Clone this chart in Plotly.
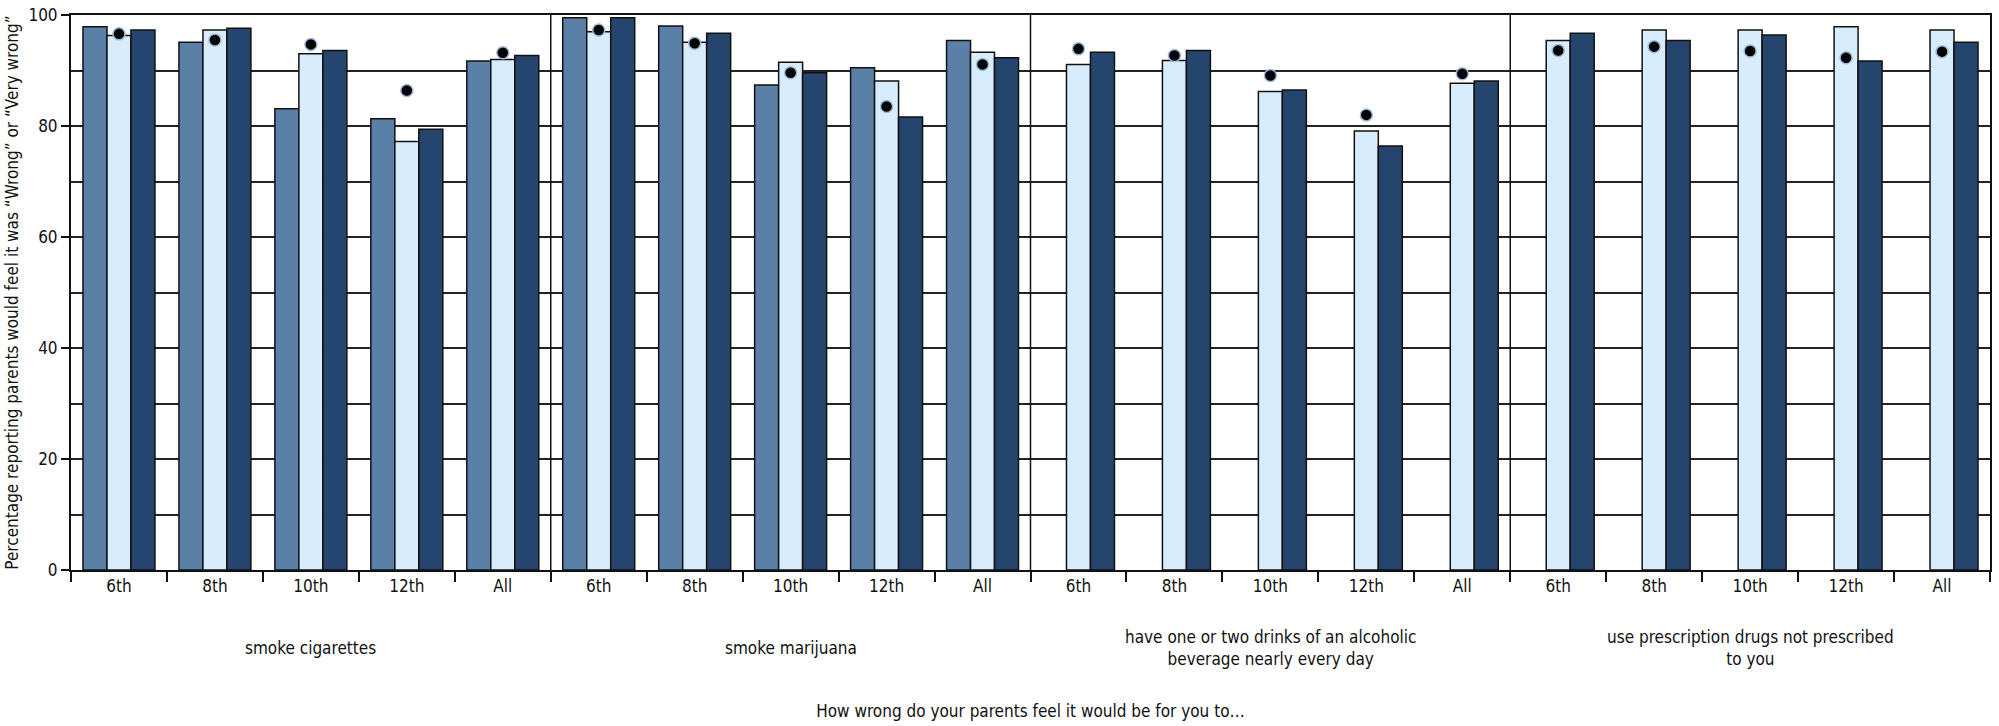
import plotly.graph_objects as go

# categories
grades = ["6th", "8th", "10th", "12th", "All"]
behaviours = [
    "smoke cigarettes",
    "smoke marijuana",
    "have one or two drinks of an alcoholic<br>beverage nearly every day",
    "use prescription drugs not prescribed<br>to you",
]

# three bar series, 20 values each (4 behaviours x 5 grades); None = not asked
series_a = [97.9, 95.1, 83.1, 81.3, 91.7,
            99.5, 98.0, 87.4, 90.5, 95.4,
            None, None, None, None, None,
            None, None, None, None, None]
series_b = [96.3, 97.3, 93.0, 77.2, 92.0,
            97.0, 95.1, 91.5, 88.1, 93.3,
            91.1, 91.8, 86.2, 79.1, 87.7,
            95.4, 97.3, 97.3, 97.9, 97.3]
series_c = [97.3, 97.6, 93.6, 79.4, 92.7,
            99.5, 96.7, 89.6, 81.6, 92.3,
            93.3, 93.6, 86.5, 76.4, 88.1,
            96.7, 95.4, 96.4, 91.7, 95.1]
# comparison dots
dots = [96.6, 95.5, 94.7, 86.4, 93.2,
        97.3, 94.9, 89.6, 83.5, 91.1,
        93.9, 92.7, 89.1, 82.0, 89.4,
        93.6, 94.3, 93.5, 92.3, 93.4]

FONT = "Liberation Sans Narrow, DejaVu Sans Condensed, sans-serif"
pos = list(range(len(grades) * len(behaviours)))
labels = grades * len(behaviours)

fig = go.Figure()
for vals, col in [(series_a, "#5b80a8"), (series_b, "#d9ecfb"), (series_c, "#26456e")]:
    fig.add_trace(go.Bar(x=pos, y=vals, marker=dict(color=col, line=dict(color="#111", width=1.5)),
                         showlegend=False))
fig.add_trace(go.Scatter(x=pos, y=dots, mode="markers", showlegend=False,
                         marker=dict(size=12, color="black", line=dict(color="#9dbade", width=1.5))))

# group separators
for k in range(1, len(behaviours)):
    fig.add_shape(type="line", xref="x", yref="y", x0=k * 5 - 0.5, x1=k * 5 - 0.5, y0=0, y1=100,
                  line=dict(color="#111", width=1.5))
# group labels
for k, b in enumerate(behaviours):
    fig.add_annotation(x=k * 5 + 2, y=-0.14, xref="x", yref="paper", text=b, showarrow=False,
                       font=dict(family=FONT, size=17, color="#111"), yanchor="middle")

fig.update_layout(
    width=1999, height=726, plot_bgcolor="white", paper_bgcolor="white",
    margin=dict(l=71, r=9, t=15, b=156),
    barmode="group", bargap=0.25, bargroupgap=0,
    font=dict(family=FONT, size=17, color="#111"),
)
fig.update_xaxes(range=[-0.5, 19.5], tickvals=pos, ticktext=labels, ticks="", automargin=False,
                 showline=True, linecolor="#111", linewidth=2, mirror=True,
                 showgrid=False, zeroline=False,
                 minor=dict(tick0=-0.5, dtick=1, ticks="outside", ticklen=10, tickcolor="#111",
                            tickwidth=1.5, showgrid=False),
                 title=dict(text="How wrong do your parents feel it would be for you to…", standoff=110,
                            font=dict(size=17)))
fig.update_yaxes(range=[0, 100], tickvals=[0, 20, 40, 60, 80, 100], ticks="outside", ticklen=8,
                 tickcolor="#111", tickwidth=1.5, automargin=False,
                 showline=True, linecolor="#111", linewidth=2, mirror=True,
                 showgrid=True, gridcolor="#222", gridwidth=1.5, zeroline=False,
                 minor=dict(dtick=10, showgrid=True, gridcolor="#222", gridwidth=1.5),
                 title=dict(text="Percentage reporting parents would feel it was “Wrong” or “Very wrong”",
                            standoff=5, font=dict(size=17)))

# drop the browser's default 8px body margin so the figure fills the window
fig.write_html("out.html", config={"displayModeBar": False},
               post_script="document.body.style.margin='0';")
